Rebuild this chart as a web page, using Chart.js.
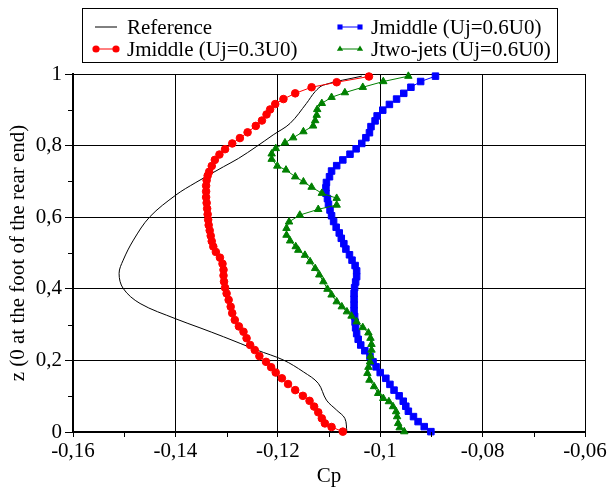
<!DOCTYPE html>
<html>
<head>
<meta charset="utf-8">
<script src="https://cdn.jsdelivr.net/npm/chart.js@4.4.1/dist/chart.umd.min.js"></script>
<style>
  body { margin: 0; background: #fff; }
  #wrap { width: 609px; height: 489px; }
</style>
</head>
<body>
<div id="wrap"><canvas id="cp-chart" width="609" height="489"></canvas></div>
<script>
/************************************************************
    Cp profiles along z (rear end)
*************************************************************/

// Reference (smooth line, no markers)
var refZ  = [0.000, 0.038, 0.061, 0.089, 0.136, 0.168, 0.201, 0.229, 0.266, 0.291, 0.316, 0.359, 0.401, 0.443,
             0.480, 0.536, 0.601, 0.662, 0.697, 0.741, 0.764, 0.797, 0.830, 0.862, 0.918, 0.951, 0.969, 0.994];
var refCp = [-0.1065, -0.1069, -0.1085, -0.1105, -0.1121, -0.1150, -0.1189, -0.1241, -0.1306, -0.1352, -0.1399, -0.1469, -0.1502, -0.1510,
             -0.1502, -0.1482, -0.1450, -0.1399, -0.1360, -0.1306, -0.1277, -0.1242, -0.1209, -0.1176, -0.1144, -0.1127, -0.1111, -0.1036];

// Jmiddle (Uj=0.3U0), red circles
var redZ  = [0.001, 0.014, 0.024, 0.038, 0.055, 0.071, 0.087, 0.101, 0.117, 0.134, 0.150, 0.166, 0.181, 0.196, 0.212,
             0.229, 0.243, 0.262, 0.280, 0.295, 0.313, 0.332, 0.350, 0.369, 0.387, 0.403, 0.420, 0.437, 0.453, 0.470,
             0.487, 0.503, 0.518, 0.533, 0.548, 0.563, 0.578, 0.593, 0.608, 0.624, 0.640, 0.656, 0.672, 0.688, 0.703,
             0.716, 0.727, 0.743, 0.760, 0.775, 0.790, 0.806, 0.821, 0.837, 0.855, 0.870, 0.887, 0.901, 0.916, 0.930,
             0.946, 0.963, 0.977, 0.993];
var redCp = [-0.1073, -0.1095, -0.1108, -0.1114, -0.1121, -0.1129, -0.1138, -0.1151, -0.1166, -0.1180, -0.1192, -0.1204, -0.1213, -0.1223, -0.1236,
             -0.1245, -0.1254, -0.1261, -0.1267, -0.1276, -0.1284, -0.1289, -0.1292, -0.1296, -0.1300, -0.1303, -0.1305, -0.1306, -0.1306, -0.1308,
             -0.1313, -0.1321, -0.1326, -0.1329, -0.1331, -0.1333, -0.1335, -0.1336, -0.1337, -0.1338, -0.1339, -0.1340, -0.1340, -0.1340, -0.1339,
             -0.1337, -0.1334, -0.1329, -0.1323, -0.1314, -0.1303, -0.1289, -0.1274, -0.1259, -0.1243, -0.1231, -0.1222, -0.1215, -0.1205, -0.1189,
             -0.1166, -0.1134, -0.1085, -0.1022];

// Jmiddle (Uj=0.6U0), blue squares
var blueZ  = [0.001, 0.015, 0.029, 0.043, 0.058, 0.072, 0.086, 0.101, 0.117, 0.133, 0.150, 0.166, 0.182, 0.196, 0.211,
              0.227, 0.243, 0.259, 0.275, 0.291, 0.307, 0.323, 0.339, 0.355, 0.371, 0.387, 0.403, 0.419, 0.434, 0.450,
              0.465, 0.480, 0.495, 0.511, 0.526, 0.541, 0.556, 0.572, 0.588, 0.604, 0.620, 0.636, 0.652, 0.667, 0.682,
              0.697, 0.713, 0.729, 0.744, 0.760, 0.776, 0.791, 0.806, 0.822, 0.836, 0.853, 0.869, 0.883, 0.899, 0.915,
              0.930, 0.946, 0.963, 0.979, 0.994];
var blueCp = [-0.0901, -0.0914, -0.0926, -0.0935, -0.0945, -0.0950, -0.0955, -0.0963, -0.0973, -0.0981, -0.0989, -0.1000, -0.1008, -0.1014, -0.1020,
              -0.1030, -0.1038, -0.1043, -0.1046, -0.1048, -0.1049, -0.1050, -0.1051, -0.1051, -0.1051, -0.1051, -0.1050, -0.1048, -0.1046, -0.1046,
              -0.1049, -0.1055, -0.1060, -0.1067, -0.1071, -0.1076, -0.1080, -0.1086, -0.1091, -0.1095, -0.1098, -0.1101, -0.1103, -0.1106, -0.1106,
              -0.1105, -0.1099, -0.1095, -0.1085, -0.1073, -0.1059, -0.1047, -0.1036, -0.1028, -0.1021, -0.1018, -0.1010, -0.1006, -0.0995, -0.0982,
              -0.0968, -0.0954, -0.0940, -0.0921, -0.0892];

// Jtwo-jets (Uj=0.6U0), green triangles
var greenZ  = [0.001, 0.012, 0.024, 0.043, 0.057, 0.071, 0.085, 0.094, 0.108, 0.127, 0.145, 0.164, 0.181, 0.196, 0.212,
               0.229, 0.245, 0.262, 0.277, 0.292, 0.308, 0.324, 0.336, 0.350, 0.364, 0.383, 0.399, 0.420, 0.439, 0.457,
               0.476, 0.494, 0.508, 0.518, 0.534, 0.550, 0.569, 0.587, 0.606, 0.622, 0.634, 0.653, 0.667, 0.684, 0.699,
               0.713, 0.732, 0.743, 0.762, 0.777, 0.792, 0.808, 0.822, 0.839, 0.855, 0.870, 0.885, 0.901, 0.918, 0.935,
               0.948, 0.963, 0.979, 0.994];
var greenCp = [-0.0953, -0.0962, -0.0965, -0.0967, -0.0969, -0.0975, -0.0983, -0.0994, -0.1004, -0.1012, -0.1021, -0.1025, -0.1023, -0.1020, -0.1019,
               -0.1017, -0.1017, -0.1019, -0.1023, -0.1034, -0.1046, -0.1056, -0.1065, -0.1075, -0.1085, -0.1095, -0.1103, -0.1111, -0.1119, -0.1127,
               -0.1137, -0.1147, -0.1160, -0.1165, -0.1176, -0.1183, -0.1183, -0.1178, -0.1157, -0.1121, -0.1085, -0.1085, -0.1114, -0.1134, -0.1150,
               -0.1166, -0.1184, -0.1201, -0.1212, -0.1212, -0.1204, -0.1186, -0.1170, -0.1150, -0.1131, -0.1127, -0.1124, -0.1123, -0.1114, -0.1095,
               -0.1069, -0.1034, -0.0994, -0.0945];

// axis ticks
var xTicks = [-0.16, -0.14, -0.12, -0.10, -0.08, -0.06];
var xMinor = [-0.15, -0.13, -0.11, -0.09, -0.07];
var yTicks = [0, 0.2, 0.4, 0.6, 0.8, 1];
var yMinor = [0.1, 0.3, 0.5, 0.7, 0.9];

var FONT = "'Liberation Serif', 'Times New Roman', serif";

// zip z / Cp into points
function toPoints(zs, cps) {
    var pts = [];
    for (var i = 0; i < zs.length; i++) pts.push({ x: cps[i], y: zs[i] });
    return pts;
}

// comma as decimal separator
function fmt(v) {
    var r = Math.round(v * 100) / 100;
    return String(r).replace('.', ',');
}

function marker(ctx, style, x, y, r) {
    ctx.beginPath();
    if (style === 'circle') {
        ctx.arc(x, y, r, 0, Math.PI * 2);
    } else if (style === 'rect') {
        var s = r / Math.SQRT2;
        ctx.rect(x - s, y - s, 2 * s, 2 * s);
    } else if (style === 'triangle') {
        ctx.moveTo(x, y - r);
        ctx.lineTo(x + r * 0.866, y + r * 0.5);
        ctx.lineTo(x - r * 0.866, y + r * 0.5);
        ctx.closePath();
    }
    ctx.fill();
}

// boxed two-column legend
var boxLegend = {
    id: 'boxLegend',
    afterDraw: function (chart) {
        var ctx = chart.ctx;
        var slots = [
            { ds: 0, x: 95,  y: 27 },
            { ds: 1, x: 95,  y: 49 },
            { ds: 2, x: 339, y: 27 },
            { ds: 3, x: 339, y: 49 }
        ];
        ctx.save();
        ctx.strokeStyle = '#000';
        ctx.lineWidth = 1;
        ctx.strokeRect(82.5, 8.5, 475, 54);
        ctx.font = '21px ' + FONT;
        ctx.textBaseline = 'middle';
        ctx.textAlign = 'left';
        slots.forEach(function (s) {
            var ds = chart.data.datasets[s.ds];
            ctx.strokeStyle = ds.borderColor;
            ctx.fillStyle = ds.borderColor;
            ctx.lineWidth = 1;
            ctx.beginPath();
            ctx.moveTo(s.x, s.y);
            ctx.lineTo(s.x + 22, s.y);
            ctx.stroke();
            if (ds.pointRadius > 0) {
                marker(ctx, ds.pointStyle, s.x + 1, s.y, 3.6);
                marker(ctx, ds.pointStyle, s.x + 21, s.y, 3.6);
            }
            ctx.fillStyle = '#000';
            ctx.fillText(ds.label, s.x + 32, s.y + 1);
        });
        ctx.restore();
    }
};

// short minor ticks outside the axes
var minorTicks = {
    id: 'minorTicks',
    afterDraw: function (chart) {
        var ctx = chart.ctx, xs = chart.scales.x, ys = chart.scales.y;
        var area = chart.chartArea;
        ctx.save();
        ctx.strokeStyle = '#000';
        ctx.lineWidth = 1;
        ctx.beginPath();
        xMinor.forEach(function (v) {
            var px = Math.round(xs.getPixelForValue(v)) + 0.5;
            ctx.moveTo(px, area.bottom);
            ctx.lineTo(px, area.bottom + 5);
        });
        yMinor.forEach(function (v) {
            var py = Math.round(ys.getPixelForValue(v)) + 0.5;
            ctx.moveTo(area.left, py);
            ctx.lineTo(area.left - 5, py);
        });
        ctx.stroke();
        ctx.restore();
    }
};

Chart.defaults.font.family = FONT;
Chart.defaults.font.size = 21;
Chart.defaults.color = '#000';

new Chart(document.getElementById('cp-chart'), {
    type: 'scatter',
    data: {
        datasets: [
            {
                label: 'Reference',
                data: toPoints(refZ, refCp),
                showLine: true,
                borderColor: '#000000',
                backgroundColor: '#000000',
                borderWidth: 1,
                pointRadius: 0,
                tension: 0.35,
                clip: false,
                order: 4
            },
            {
                label: 'Jmiddle (Uj=0.3U0)',
                data: toPoints(redZ, redCp),
                showLine: true,
                borderColor: '#ff0000',
                backgroundColor: '#ff0000',
                borderWidth: 1,
                pointStyle: 'circle',
                pointRadius: 3.8,
                pointBorderWidth: 1,
                clip: false,
                order: 1
            },
            {
                label: 'Jmiddle (Uj=0.6U0)',
                data: toPoints(blueZ, blueCp),
                showLine: true,
                borderColor: '#0000ff',
                backgroundColor: '#0000ff',
                borderWidth: 1,
                pointStyle: 'rect',
                pointRadius: 4.6,
                pointBorderWidth: 1,
                clip: false,
                order: 3
            },
            {
                label: 'Jtwo-jets (Uj=0.6U0)',
                data: toPoints(greenZ, greenCp),
                showLine: true,
                borderColor: '#008000',
                backgroundColor: '#008000',
                borderWidth: 1,
                pointStyle: 'triangle',
                pointRadius: 4.3,
                pointBorderWidth: 1,
                clip: false,
                order: 2
            }
        ]
    },
    options: {
        responsive: false,
        animation: false,
        events: [],
        layout: { padding: { top: 74, right: 24, left: 0, bottom: 0 } },
        plugins: {
            legend: { display: false },
            tooltip: { enabled: false }
        },
        scales: {
            x: {
                type: 'linear',
                min: xTicks[0],
                max: xTicks[xTicks.length - 1],
                afterBuildTicks: function (scale) {
                    scale.ticks = xTicks.map(function (v) { return { value: v }; });
                },
                afterFit: function (scale) { scale.height = 57; },
                grid: { color: '#000', lineWidth: 1, tickLength: 5, tickColor: '#000' },
                border: { color: '#000', width: 2 },
                ticks: { padding: 2, maxRotation: 0, callback: function (v) { return fmt(v); } },
                title: { display: true, text: 'Cp', padding: { top: 0, bottom: 0 } }
            },
            y: {
                type: 'linear',
                min: yTicks[0],
                max: yTicks[yTicks.length - 1],
                afterBuildTicks: function (scale) {
                    scale.ticks = yTicks.map(function (v) { return { value: v }; });
                },
                afterFit: function (scale) { scale.width = 73; },
                grid: { color: '#000', lineWidth: 1, tickLength: 8, tickColor: '#000' },
                border: { color: '#000', width: 2 },
                ticks: { padding: 3, callback: function (v) { return fmt(v); } },
                title: { display: true, text: 'z (0 at the foot of the rear end)', padding: { top: 6, bottom: 0 } }
            }
        }
    },
    plugins: [boxLegend, minorTicks]
});
</script>
</body>
</html>
